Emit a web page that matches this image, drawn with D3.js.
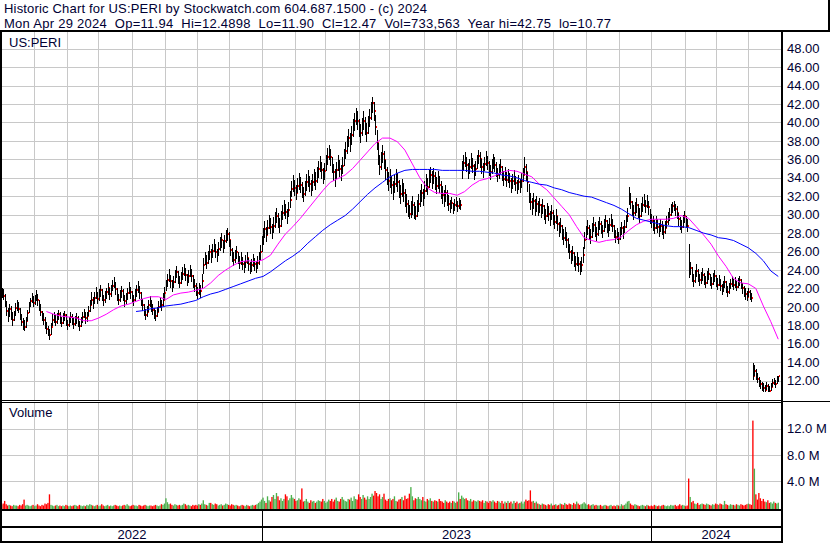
<!DOCTYPE html>
<html><head><meta charset="utf-8">
<script src="https://cdn.jsdelivr.net/npm/d3@7"></script>
<style>
html,body{margin:0;padding:0;background:#fff;}
svg{display:block;}
.lbl{font-family:"Liberation Sans",Arial,sans-serif;font-size:13px;fill:#000033;}
.hdr{font-family:"Liberation Sans",Arial,sans-serif;font-size:13px;fill:#000033;white-space:pre;}
</style>
</head><body>
<svg id="c" width="830" height="543"></svg>
<script>
// ---- data (daily, weekdays from 2 May 2022) ----
const startDate = "2022-05-02";
const highs = [
22.0,21.9,21.4,20.6,19.9,20.3,20.1,19.5,19.6,20.4,
20.8,20.5,19.9,19.2,18.8,18.6,18.9,19.7,20.5,21.0,
21.5,21.2,21.3,21.8,21.4,20.8,20.3,19.6,19.3,18.9,
18.4,17.9,17.6,18.3,19.2,19.4,19.1,19.3,19.7,19.4,
18.9,19.3,19.6,19.2,18.6,18.9,19.4,19.2,18.8,19.0,
19.3,19.0,18.5,18.9,19.4,19.8,19.4,19.5,20.1,20.8,
21.6,21.1,21.6,22.2,21.6,21.9,22.4,21.9,21.3,21.7,
22.1,22.6,22.1,22.4,22.9,23.2,22.7,22.0,21.4,21.8,
22.3,21.9,21.3,21.5,22.1,22.7,22.2,21.7,21.3,21.9,
22.4,22.8,22.3,21.6,20.9,20.3,19.8,20.1,20.8,21.2,
20.8,20.3,19.9,19.7,20.0,20.6,21.1,20.8,21.5,22.2,
22.9,23.6,24.1,23.5,22.9,23.3,24.0,24.4,23.9,23.3,
23.8,24.3,24.7,24.2,23.6,24.0,24.5,24.1,23.5,23.0,
22.6,22.2,22.6,22.4,23.6,25.3,26.0,25.6,26.1,26.7,
26.3,26.8,27.4,26.8,26.3,27.0,27.6,28.0,27.3,27.8,
28.3,28.6,28.1,27.2,26.4,25.9,26.2,26.6,26.0,25.5,
25.9,25.4,25.0,25.6,26.0,25.3,24.9,25.2,25.7,25.3,
25.0,25.5,26.0,26.7,27.7,28.5,29.3,28.7,29.4,30.0,
29.6,29.0,29.7,30.3,30.7,30.2,29.6,30.4,31.0,31.6,
31.2,30.6,31.4,32.6,33.7,34.3,33.8,33.2,34.0,34.5,
34.1,33.5,33.0,33.7,34.4,34.8,34.2,33.8,34.4,34.9,
34.6,35.2,35.8,36.4,35.7,35.1,35.6,36.5,37.2,37.6,
37.1,36.3,35.5,35.0,35.7,36.5,35.9,35.4,36.2,37.1,
37.9,38.5,39.3,38.8,39.6,40.4,41.0,41.6,41.2,40.4,
39.8,40.5,41.2,40.6,39.9,40.7,41.5,42.2,42.75,42.2,
40.8,39.2,37.8,36.5,36.8,37.6,36.9,35.9,35.2,34.6,
34.9,34.2,33.6,34.3,35.0,34.5,33.8,33.2,33.9,33.4,
32.8,32.2,31.6,31.1,31.5,32.0,31.4,30.9,31.6,32.2,
32.7,33.3,32.8,33.6,34.4,34.0,34.8,35.2,34.7,35.1,
34.6,34.1,34.7,34.2,33.6,33.1,32.7,33.2,32.7,32.1,
31.6,31.9,31.3,31.7,31.9,31.5,31.8,31.6,35.8,36.5,
36.8,36.2,35.6,36.0,36.7,36.1,35.5,35.8,36.5,37.0,
36.8,36.0,35.6,36.3,36.9,36.4,35.8,35.4,36.0,36.6,
36.2,35.7,35.1,35.5,36.0,35.3,34.7,35.2,34.6,35.0,
34.5,34.0,34.4,34.8,34.2,33.8,34.3,33.9,34.5,35.1,
36.2,35.5,34.6,33.3,32.3,31.8,32.3,31.7,32.0,31.5,
31.8,31.2,31.7,31.0,30.6,31.3,30.9,30.4,31.0,30.5,
30.0,30.6,29.9,29.2,29.6,28.9,28.4,28.7,28.1,27.5,
26.8,26.2,26.6,25.9,25.5,26.0,25.4,25.0,25.4,26.5,
28.1,28.8,29.4,28.9,28.4,29.1,29.7,29.2,28.7,29.3,
29.7,29.3,28.9,29.5,30.0,29.4,29.0,29.6,30.1,29.5,
28.9,28.3,28.6,28.1,28.7,29.2,28.8,29.4,30.0,30.7,
33.0,32.3,31.5,31.0,31.4,31.8,31.2,30.7,31.3,31.9,
32.2,31.6,32.1,31.5,30.6,30.1,29.8,29.4,29.9,29.5,
29.1,29.5,29.3,28.9,29.3,29.9,30.3,30.7,31.2,31.4,
31.5,31.2,30.9,30.2,29.7,29.4,30.0,30.4,29.9,29.5,
26.8,24.9,24.3,23.6,24.0,24.7,24.1,23.6,23.8,24.2,
23.7,23.3,23.9,24.2,23.6,23.2,23.7,24.0,23.5,23.1,
23.5,23.0,22.5,22.8,23.3,22.8,22.3,22.6,23.0,23.3,
23.0,23.2,22.8,23.1,23.4,23.0,22.6,22.3,22.0,21.7,
22.1,21.8,21.5,13.9,13.7,13.3,12.8,12.4,12.1,11.9,
11.7,11.5,11.9,11.6,11.4,11.8,12.2,12.3,12.1,12.5,
12.49];
const lows = [
21.0,20.8,20.0,19.0,18.4,18.9,18.6,17.9,18.5,19.0,
19.6,19.3,18.6,17.9,17.5,17.4,17.7,18.5,19.3,20.0,
20.4,20.0,20.2,20.6,20.1,19.6,19.0,18.5,18.0,17.6,
17.1,16.8,16.4,16.9,17.9,18.3,17.9,18.1,18.6,18.2,
17.8,18.1,18.5,17.9,17.5,17.8,18.3,18.0,17.6,17.9,
18.2,17.8,17.4,17.8,18.3,18.8,18.2,18.4,19.0,19.5,
20.2,19.8,20.3,20.9,20.3,20.6,21.1,20.6,20.1,20.4,
20.9,21.3,20.8,21.1,21.7,22.0,21.3,20.6,20.2,20.5,
21.0,20.6,20.0,20.3,20.8,21.4,20.9,20.4,20.1,20.6,
21.1,21.5,20.9,20.1,19.6,19.0,18.6,18.9,19.5,20.0,
19.5,19.1,18.7,18.5,18.9,19.4,19.9,19.6,20.1,20.8,
21.7,22.2,22.7,22.1,21.6,22.0,22.6,23.1,22.5,22.0,
22.5,22.9,23.4,22.8,22.3,22.6,23.2,22.7,22.1,21.6,
21.2,20.9,21.3,21.0,21.9,23.6,24.5,24.1,24.7,25.1,
24.8,25.3,25.9,25.3,24.9,25.5,26.1,26.4,25.8,26.3,
26.9,27.1,26.5,25.5,24.9,24.4,24.8,25.2,24.6,24.1,
24.5,24.0,23.7,24.2,24.6,23.9,23.6,23.8,24.3,23.9,
23.7,24.1,24.5,25.1,25.9,26.7,27.5,27.0,27.8,28.4,
27.9,27.4,28.0,28.6,29.1,28.5,28.0,28.7,29.4,29.9,
29.5,29.0,29.7,30.7,31.9,32.5,32.0,31.6,32.3,32.7,
32.3,31.8,31.4,32.0,32.6,33.0,32.5,32.0,32.6,33.1,
32.7,33.4,34.0,34.6,33.9,33.3,33.8,34.7,35.4,35.9,
35.3,34.5,33.7,33.0,33.9,34.7,34.1,33.6,34.4,35.3,
36.0,36.6,37.3,36.8,37.6,38.4,39.1,39.7,39.2,38.4,
37.8,38.5,39.2,38.6,37.9,38.7,39.5,40.3,41.0,40.2,
38.6,37.0,35.4,34.3,34.8,35.6,34.9,33.8,33.2,32.6,
32.9,32.2,31.6,32.3,33.0,32.5,31.8,31.2,31.9,31.4,
30.8,30.2,29.7,29.5,29.6,30.0,29.5,29.4,29.7,30.3,
30.8,31.4,30.9,31.7,32.5,32.1,32.9,33.4,32.8,33.3,
32.7,32.2,32.8,32.3,31.7,31.2,30.8,31.4,30.9,30.4,
30.2,30.6,30.1,30.4,30.8,30.3,30.6,30.5,33.9,34.7,
35.2,34.6,33.9,34.4,35.0,34.5,33.8,34.2,34.9,35.5,
35.1,34.4,34.0,34.7,35.3,34.8,34.2,33.8,34.4,35.0,
34.6,34.1,33.5,33.9,34.4,33.7,33.1,33.6,33.0,33.4,
32.9,32.4,32.8,33.2,32.6,32.2,32.7,32.3,32.9,33.5,
34.3,33.6,32.5,31.3,30.5,30.0,30.6,29.9,30.3,29.8,
30.2,29.6,30.1,29.4,29.0,29.7,29.3,28.8,29.4,28.9,
28.4,29.0,28.2,27.6,28.0,27.3,26.7,27.1,26.4,25.8,
25.2,24.6,25.0,24.3,23.9,24.4,23.8,23.5,23.8,24.8,
26.3,27.2,27.8,27.3,26.8,27.5,28.1,27.6,27.1,27.7,
28.3,27.9,27.5,28.1,28.6,28.0,27.6,28.2,28.7,28.1,
27.5,26.9,27.2,26.8,27.3,27.8,27.4,28.0,28.6,29.2,
31.0,30.6,29.9,29.4,29.8,30.2,29.6,29.1,29.7,30.3,
30.8,30.2,30.7,30.0,29.0,28.5,28.2,27.9,28.4,28.0,
27.6,28.1,27.8,27.4,27.9,28.5,28.9,29.3,29.8,30.2,
30.4,29.9,29.5,28.8,28.3,28.0,28.6,29.1,28.5,28.1,
23.1,23.5,22.7,22.2,22.6,23.2,22.7,22.3,22.5,22.8,
22.4,22.0,22.5,22.9,22.3,21.9,22.4,22.7,22.2,21.8,
22.3,21.7,21.3,21.6,22.1,21.5,21.1,21.4,21.9,22.2,
21.8,22.1,21.7,22.0,22.3,21.9,21.4,21.1,20.8,20.6,
21.1,20.7,20.5,12.1,12.5,12.1,11.7,11.3,11.1,10.9,
10.8,10.8,11.0,10.8,10.77,10.9,11.3,11.5,11.2,11.6,
11.90];
const closes = [
21.6,21.2,20.4,19.6,19.1,19.8,19.3,18.6,19.2,19.9,
20.3,19.8,19.0,18.4,18.1,17.8,18.5,19.3,20.1,20.6,
21.0,20.4,20.9,21.3,20.7,20.2,19.5,19.0,18.6,18.2,
17.6,17.2,16.9,17.8,18.6,18.9,18.4,18.8,19.2,18.7,
18.3,18.8,19.1,18.5,18.0,18.4,18.9,18.6,18.2,18.5,
18.8,18.3,17.9,18.4,18.9,19.3,18.8,19.0,19.6,20.2,
20.8,20.4,21.0,21.5,20.9,21.3,21.8,21.2,20.7,21.1,
21.6,22.0,21.4,21.8,22.3,22.6,21.9,21.3,20.8,21.2,
21.7,21.2,20.6,20.9,21.5,22.0,21.6,21.0,20.7,21.3,
21.8,22.2,21.5,20.8,20.2,19.6,19.1,19.5,20.2,20.6,
20.1,19.7,19.3,19.0,19.4,20.0,20.5,20.2,20.8,21.5,
22.3,22.9,23.4,22.8,22.2,22.7,23.3,23.8,23.2,22.6,
23.1,23.6,24.1,23.5,22.9,23.3,23.9,23.4,22.8,22.3,
21.9,21.5,22.0,21.7,22.8,24.5,25.2,24.8,25.4,25.9,
25.5,26.1,26.6,26.0,25.6,26.3,26.9,27.2,26.5,27.1,
27.6,27.9,27.3,26.2,25.6,25.1,25.5,25.9,25.3,24.8,
25.2,24.7,24.3,24.9,25.3,24.6,24.2,24.5,25.0,24.6,
24.3,24.8,25.2,25.9,26.8,27.6,28.4,27.8,28.6,29.2,
28.7,28.2,28.8,29.4,29.9,29.3,28.8,29.5,30.2,30.8,
30.3,29.8,30.5,31.6,32.8,33.4,32.9,32.4,33.1,33.6,
33.2,32.6,32.2,32.8,33.5,33.9,33.3,32.9,33.5,34.0,
33.6,34.3,34.9,35.5,34.8,34.2,34.7,35.6,36.3,36.8,
36.2,35.4,34.6,34.1,34.8,35.6,35.0,34.5,35.3,36.2,
36.9,37.6,38.3,37.8,38.6,39.4,40.1,40.7,40.2,39.4,
38.8,39.5,40.2,39.6,38.9,39.7,40.5,41.3,42.1,41.2,
39.5,37.8,36.4,35.2,35.8,36.6,35.9,34.8,34.2,33.6,
33.9,33.2,32.6,33.3,34.0,33.5,32.8,32.2,32.9,32.4,
31.8,31.2,30.6,30.1,30.5,31.0,30.4,29.9,30.6,31.2,
31.7,32.3,31.8,32.6,33.4,33.0,33.8,34.3,33.7,34.2,
33.6,33.1,33.7,33.2,32.6,32.1,31.7,32.3,31.8,31.2,
30.8,31.3,30.6,31.0,31.4,30.9,31.2,31.0,34.8,35.6,
36.1,35.4,34.7,35.2,35.9,35.3,34.6,35.0,35.7,36.4,
36.0,35.2,34.8,35.5,36.1,35.6,35.0,34.6,35.2,35.8,
35.4,34.9,34.3,34.7,35.2,34.5,33.9,34.4,33.8,34.2,
33.7,33.2,33.6,34.0,33.4,33.0,33.5,33.1,33.7,34.3,
35.2,34.6,33.5,32.2,31.4,30.9,31.5,30.8,31.2,30.6,
31.0,30.4,30.9,30.2,29.8,30.5,30.1,29.6,30.2,29.7,
29.2,29.8,29.0,28.4,28.8,28.1,27.5,27.9,27.2,26.6,
26.0,25.4,25.8,25.1,24.7,25.2,24.6,24.2,24.5,25.6,
27.2,28.0,28.6,28.1,27.6,28.3,28.9,28.4,27.9,28.5,
29.0,28.6,28.2,28.8,29.3,28.7,28.3,28.9,29.4,28.8,
28.2,27.6,27.9,27.4,28.0,28.5,28.1,28.7,29.3,29.9,
32.1,31.4,30.7,30.2,30.6,31.0,30.4,29.9,30.5,31.1,
31.5,30.9,31.4,30.8,29.8,29.3,29.0,28.6,29.1,28.7,
28.3,28.8,28.5,28.1,28.6,29.2,29.6,30.0,30.5,30.9,
31.1,30.6,30.2,29.5,29.0,28.7,29.3,29.8,29.2,28.8,
23.6,24.2,23.4,22.8,23.3,23.9,23.4,22.9,23.1,23.5,
23.0,22.6,23.2,23.6,22.9,22.5,23.0,23.4,22.8,22.4,
22.9,22.3,21.8,22.2,22.7,22.1,21.6,22.0,22.5,22.8,
22.4,22.7,22.2,22.6,22.9,22.5,22.0,21.7,21.4,21.1,
21.6,21.2,21.0,12.5,13.1,12.7,12.2,11.8,11.6,11.3,
11.2,11.0,11.4,11.1,10.9,11.3,11.7,11.9,11.6,12.1,
12.47];
// volume in millions of shares
const volumes = [
.4,.6,1.0,.5,.3,.4,.3,.2,.4,.3,
.3,.2,.4,.3,.5,1.2,.3,.4,.3,.2,
.3,.4,.2,.3,.5,.3,.2,.4,.3,.6,
.5,.7,2.0,.4,.3,.2,.3,.4,.2,.3,
.2,.3,.2,.4,.3,.2,.3,.2,.3,.4,
.3,.2,.4,.3,.2,.3,.2,.4,.3,.5,
.4,.3,.2,.3,.4,.2,.3,.5,.3,.2,
.3,.4,.2,.3,.2,.3,.4,.3,.2,.3,
.2,.3,.4,.3,.5,.3,.2,.3,.4,.3,
.3,.2,.4,.3,.2,.3,.4,.3,.2,.3,
.3,.2,.3,.4,.3,.2,.3,.5,.4,.6,
1.4,.8,.5,.6,.4,.3,.5,.4,.3,.4,
.3,.4,.6,.5,.3,.4,.3,.2,.4,.3,
.4,.3,.5,.4,.6,1.1,.5,.4,.3,.7,
.7,.5,.4,.6,.5,.3,.4,.5,.3,.4,
.6,.5,.4,.3,.5,.4,.3,.4,.3,.2,
.3,.4,.3,.2,.4,.3,.2,.3,.4,.3,
.4,.5,.7,.9,1.2,1.5,1.0,.7,1.7,1.1,
.9,1.6,1.9,1.3,2.2,1.7,1.1,1.4,1.0,1.3,
2.0,1.7,1.1,1.4,1.9,1.5,1.3,1.0,1.1,1.4,
1.2,2.9,.9,1.0,1.3,.9,.7,1.1,.9,1.0,
.7,.9,1.1,1.0,.9,1.3,1.0,.7,.9,1.2,
1.0,1.3,.9,1.2,1.5,1.0,.9,1.3,1.6,1.2,
1.0,.9,1.3,1.2,1.5,1.0,1.7,1.3,1.2,2.0,
1.6,1.3,1.9,1.5,1.2,1.7,1.3,1.6,2.1,1.8,
2.5,2.2,1.7,2.0,1.3,1.6,2.1,1.2,1.0,1.3,
1.4,1.1,1.3,1.7,1.0,.9,1.2,1.3,1.6,1.1,
1.8,1.3,1.4,2.1,3.1,1.7,1.1,1.4,1.3,1.6,
1.3,1.1,1.6,1.0,.9,1.3,1.1,1.4,1.0,.9,
1.1,1.0,.9,1.3,1.0,.9,.7,1.1,.9,.7,
.9,.7,1.0,.9,.7,.9,2.3,1.3,1.8,1.5,
1.3,1.4,1.1,1.0,1.3,.9,1.1,1.0,.9,1.1,
1.0,.9,1.1,.7,1.0,.9,.7,1.0,.9,1.1,
.9,.7,1.0,.9,.7,1.0,.6,.9,.7,1.0,
.7,.9,.6,1.0,.7,.9,.6,.7,.9,.6,
.9,1.2,1.0,1.1,2.6,.9,1.0,.7,.9,.6,
.5,.4,.6,.5,.4,.3,.5,.4,.6,.3,
.4,.5,.3,.4,.6,.5,.4,.7,.5,.4,
.6,.5,.4,.7,.5,.9,.6,.4,.5,.6,
.8,.6,.4,.5,.3,.4,.5,.3,.4,.3,
.3,.4,.2,.3,.4,.3,.2,.3,.4,.2,
.3,.2,.4,.3,.2,.5,.3,.4,.6,.9,
1.0,.6,.4,.3,.5,.4,.3,.2,.3,.4,
.3,.2,.4,.3,.2,.3,.2,.4,.3,.2,
.3,.2,.3,.4,.3,.2,.3,.2,.4,.3,
.3,.4,.2,.3,.5,.3,.4,.3,.2,.3,
4.4,1.6,.8,1.0,.6,.5,.7,.4,.5,.6,
.5,.4,.6,.5,.4,.3,.5,.4,.6,.5,
.4,.6,.5,.4,1.0,.5,.4,.3,.5,.4,
.4,.3,.5,.4,.3,.5,.4,.3,.4,.5,
.6,.5,.4,13.2,5.9,2.0,1.2,2.2,1.4,1.0,
1.3,.9,.8,1.1,.7,.8,.6,.9,.7,.6,
.73];
// moving averages, one value every 5 trading days
const maStep = 5;
const fastStart = 30;
const fastMA = [
19.5,19.2,19.0,18.9,18.8,18.5,18.5,18.8,19.2,19.7,
20.1,20.3,20.6,20.9,21.1,21.1,20.8,21.3,21.5,21.6,
21.8,22.0,22.6,23.4,24.0,24.5,24.9,25.0,24.9,25.1,
25.6,26.8,27.9,28.7,29.6,30.6,31.6,32.6,33.5,33.9,
34.3,35.0,35.9,36.8,37.7,38.3,38.3,37.9,37.0,35.5,
34.0,32.9,32.4,32.3,32.3,32.1,32.5,33.2,33.7,33.9,
34.2,34.6,34.8,34.7,34.4,34.1,33.3,32.7,31.8,30.9,
30.0,28.7,27.5,27.2,27.0,27.2,27.3,27.6,28.3,28.9,
29.3,29.5,29.5,29.5,29.6,29.9,29.6,28.7,27.8,26.8,
25.5,24.4,23.1,22.6,22.5,22.0,20.1,18.4,16.5];
const slowStart = 90;
const slowMA = [
19.5,19.6,19.8,19.9,20.1,20.2,20.3,20.5,20.7,21.1,
21.4,21.6,21.9,22.2,22.5,22.8,23.1,23.3,23.8,24.4,
25.0,25.5,26.1,26.9,27.6,28.3,28.9,29.4,29.9,30.6,
31.4,32.2,32.9,33.5,34.1,34.5,34.8,34.9,34.9,34.9,
34.9,34.8,34.8,34.8,34.8,34.7,34.7,34.6,34.5,34.3,
34.2,34.0,33.7,33.5,33.3,33.2,32.9,32.7,32.4,32.2,
32.0,31.9,31.6,31.3,31.0,30.6,30.1,29.6,29.4,29.2,
29.0,28.8,28.7,28.7,28.6,28.3,28.0,27.8,27.5,27.4,
27.2,26.8,26.4,25.8,25.0,23.9,23.3];
const priceTicks = [12,14,16,18,20,22,24,26,28,30,32,34,36,38,40,42,44,46,48];
const volTicks = [4,8,12];
const headerLine1 = "Historic Chart for US:PERI by Stockwatch.com 604.687.1500 - (c) 2024";
const headerLine2 = "Mon Apr 29 2024  Op=11.94  Hi=12.4898  Lo=11.90  Cl=12.47  Vol=733,563  Year hi=42.75  lo=10.77";
const symbolLabel = "US:PERI";
const volumeLabel = "Volume";

// ---- layout ----
const svg = d3.select("#c");
const plotL = 2, plotR = 781, priceTop = 32, priceBot = 400, volTop = 403, volBot = 509;
const N = closes.length;
const dates = [];
{ let d = new Date(startDate + "T12:00:00");
  while (dates.length < N) { const wd = d.getDay(); if (wd !== 0 && wd !== 6) dates.push(new Date(d)); d.setDate(d.getDate() + 1); } }

const x = d3.scaleLinear().domain([0, N]).range([0.9, 779]);
const step = x(1) - x(0);
const px = i => Math.round(x(i) + step / 2);
const y = d3.scaleLinear().domain([12, 48]).range([380.7, 48.6]);
const yv = d3.scaleLinear().domain([0, 12]).range([507.5, 428.5]);

const monthStarts = d3.range(1, N).filter(i => dates[i].getMonth() !== dates[i - 1].getMonth());
const yearStarts = d3.range(1, N).filter(i => dates[i].getFullYear() !== dates[i - 1].getFullYear());
const yearNames = [dates[0].getFullYear(), ...yearStarts.map(i => dates[i].getFullYear())].map(String);

svg.append("rect").attr("width", 830).attr("height", 543).attr("fill", "#fff");

// grid
const grid = svg.append("g").attr("stroke", "#c8c8c8").attr("stroke-width", 1).attr("shape-rendering", "crispEdges");
grid.selectAll("line.hp").data(priceTicks).join("line").attr("class", "hp")
  .attr("x1", plotL).attr("x2", plotR)
  .attr("y1", d => Math.round(y(d)) + 0.5).attr("y2", d => Math.round(y(d)) + 0.5);
grid.selectAll("line.hv").data(volTicks).join("line").attr("class", "hv")
  .attr("x1", plotL).attr("x2", plotR)
  .attr("y1", d => Math.round(yv(d)) + 0.5).attr("y2", d => Math.round(yv(d)) + 0.5);
grid.selectAll("line.vp").data(monthStarts).join("line").attr("class", "vp")
  .attr("x1", i => Math.round(x(i)) + 0.5).attr("x2", i => Math.round(x(i)) + 0.5)
  .attr("y1", priceTop).attr("y2", priceBot);
grid.selectAll("line.vv").data(monthStarts).join("line").attr("class", "vv")
  .attr("x1", i => Math.round(x(i)) + 0.5).attr("x2", i => Math.round(x(i)) + 0.5)
  .attr("y1", volTop).attr("y2", volBot);

// price bars: red close ticks first, black high-low bars on top
const idx = d3.range(N);
svg.append("g").attr("shape-rendering", "crispEdges").selectAll("rect").data(idx).join("rect")
  .attr("x", i => px(i) + 1).attr("y", i => Math.round(y(closes[i])) - 1)
  .attr("width", 1).attr("height", 2).attr("fill", "#ff0000");
svg.append("g").attr("shape-rendering", "crispEdges").selectAll("rect").data(idx).join("rect")
  .attr("x", i => px(i)).attr("width", 1)
  .attr("y", i => Math.round(y(highs[i])))
  .attr("height", i => Math.max(1, Math.round(y(lows[i])) - Math.round(y(highs[i]))))
  .attr("fill", "#000");

// moving averages
const lineFast = d3.line().x((v, k) => x(fastStart + k * maStep) + step / 2).y(v => y(v));
const lineSlow = d3.line().x((v, k) => x(slowStart + k * maStep) + step / 2).y(v => y(v));
svg.append("path").attr("d", lineFast(fastMA)).attr("fill", "none").attr("stroke", "#ff00ff").attr("stroke-width", 1);
svg.append("path").attr("d", lineSlow(slowMA)).attr("fill", "none").attr("stroke", "#0000ff").attr("stroke-width", 1);

// volume bars
svg.append("g").selectAll("rect").data(idx).join("rect")
  .attr("x", i => x(i) + 0.1).attr("width", step * 0.9)
  .attr("y", i => Math.min(yv(volumes[i]), volBot - 1))
  .attr("height", i => volBot - Math.min(yv(volumes[i]), volBot - 1))
  .attr("fill", i => (i > 0 && closes[i] < closes[i - 1]) ? "#ff0000" : "#4cb04c");

// frame lines
const frame = svg.append("g").attr("fill", "#000");
frame.append("rect").attr("x", 0).attr("y", 30).attr("width", 830).attr("height", 2);
frame.append("rect").attr("x", 0).attr("y", 30).attr("width", 2).attr("height", 513);
frame.append("rect").attr("x", 828).attr("y", 0).attr("width", 2).attr("height", 31);
frame.append("rect").attr("x", plotR).attr("y", 30).attr("width", 2).attr("height", 513);
frame.append("rect").attr("x", 0).attr("y", 400).attr("width", plotR).attr("height", 1);
frame.append("rect").attr("x", 0).attr("y", 402).attr("width", plotR).attr("height", 1);
frame.append("rect").attr("x", plotR).attr("y", 401).attr("width", 830 - plotR).attr("height", 1);
frame.append("rect").attr("x", 0).attr("y", volBot).attr("width", plotR).attr("height", 2);
frame.append("rect").attr("x", 0).attr("y", 526).attr("width", plotR).attr("height", 2);
frame.append("rect").attr("x", 0).attr("y", 541).attr("width", plotR + 2).attr("height", 2);
yearStarts.forEach(i => {
  frame.append("rect").attr("x", Math.round(x(i))).attr("y", volBot).attr("width", 1).attr("height", 543 - volBot);
});

// axes
const axP = svg.append("g").attr("transform", `translate(${plotR + 2},0)`)
  .call(d3.axisRight(y).tickValues(priceTicks).tickFormat(d3.format(".2f")).tickSize(0).tickPadding(4));
const axV = svg.append("g").attr("transform", `translate(${plotR + 2},0)`)
  .call(d3.axisRight(yv).tickValues(volTicks).tickFormat(d => d.toFixed(1) + " M").tickSize(0).tickPadding(4));
[axP, axV].forEach(a => {
  a.select(".domain").remove();
  a.attr("font-family", null).attr("font-size", null);
  a.selectAll("text").attr("class", "lbl").attr("fill", null);
});

// year labels
const yearEdges = [plotL, ...yearStarts.map(i => Math.round(x(i))), plotR];
svg.append("g").selectAll("text").data(yearNames).join("text").attr("class", "lbl")
  .attr("x", (d, k) => (yearEdges[k] + yearEdges[k + 1]) / 2).attr("y", 539)
  .attr("text-anchor", "middle").text(d => d);

// header: fit each line to the reference width with letter spacing
function headerText(str, yPos, targetW) {
  const t = svg.append("text").attr("class", "hdr").attr("x", 4).attr("y", yPos).text(str);
  const n = t.node();
  const w = n.getComputedTextLength();
  const k = n.getNumberOfChars();
  if (k > 1 && w > 0) t.style("letter-spacing", ((targetW - w) / (k - 1)).toFixed(3) + "px");
  return t;
}
headerText(headerLine1, 13, 423);
headerText(headerLine2, 27.5, 607);
svg.append("text").attr("class", "lbl").attr("x", 9).attr("y", 47).text(symbolLabel);
svg.append("text").attr("class", "lbl").attr("x", 9).attr("y", 417).text(volumeLabel);
</script>
</body></html>
